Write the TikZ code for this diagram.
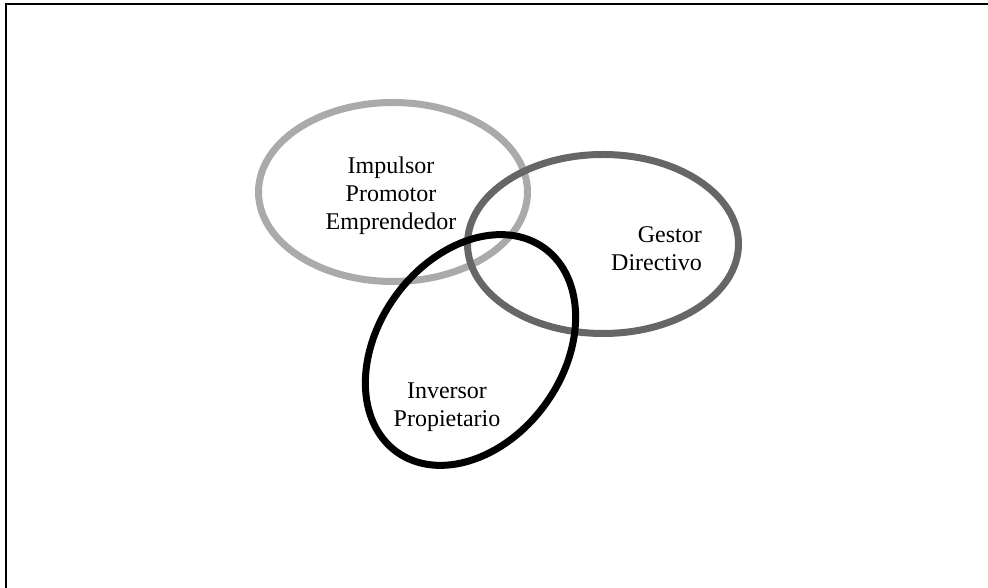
\documentclass[tikz,border=0pt]{standalone}
\usepackage{fontspec}
\setmainfont{Liberation Serif}
\begin{document}
\begin{tikzpicture}[x=1pt,y=1pt,
  ring/.style={line width=7pt},
  lbl/.style={font=\fontsize{24}{28}\selectfont, inner sep=0pt}]
\useasboundingbox (0,0) rectangle (988,588);
\draw[line width=1.8pt] (6,0) -- (6,584.2) -- (988,584.2);
\draw[ring, color={rgb,255:red,170;green,170;blue,170}] (393,396) ellipse [x radius=134.5, y radius=89.5];
\draw[ring, color={rgb,255:red,102;green,102;blue,102}] (603,344) ellipse [x radius=135.5, y radius=89.5];
\draw[ring, black] (470.5,238) ellipse [x radius=125.8, y radius=92.4, rotate=54];
\node[lbl, align=center] (impulsor) at (391,392) {Impulsor\\Promotor\\Emprendedor};
\node[lbl, align=right, anchor=east] (gestor) at (702,339) {Gestor\\Directivo};
\node[lbl, align=center] (inversor) at (447,181) {Inversor\\Propietario};
\end{tikzpicture}
\end{document}
